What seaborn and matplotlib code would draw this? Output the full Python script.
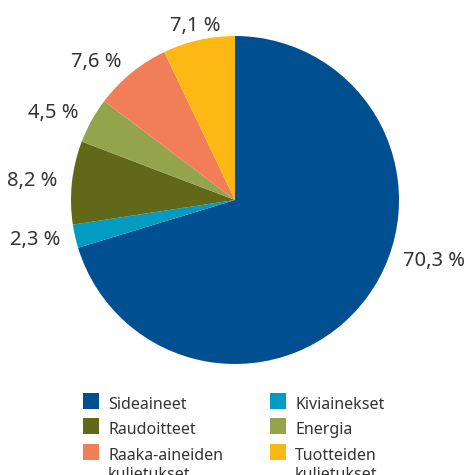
import numpy as np
import matplotlib
matplotlib.use("Agg")
import matplotlib.pyplot as plt
from matplotlib.patches import Rectangle
import seaborn as sns

categories = ["Sideaineet", "Kiviainekset", "Raudoitteet", "Energia",
              "Raaka-aineiden\nkuljetukset", "Tuotteiden\nkuljetukset"]
values = [70.3, 2.3, 8.2, 4.5, 7.6, 7.1]
colors = ["#004f91", "#029bc1", "#616818", "#94a44c", "#f27e57", "#fdb813"]
pct_labels = [f"{v:.1f} %".replace(".", ",") for v in values]

sns.set_theme(style="white")
plt.rcParams["font.family"] = ["Noto Sans", "DejaVu Sans"]
TXT = "#333333"

W, H = 465, 475
fig = plt.figure(figsize=(W / 100, H / 100), dpi=100)

cx, cy, R = 235, 200, 164
ax = fig.add_axes([(cx - R) / W, 1 - (cy + R) / H, 2 * R / W, 2 * R / H])
wedges, texts = ax.pie(values, colors=colors, startangle=90, counterclock=False,
                       labels=pct_labels, labeldistance=1.09,
                       wedgeprops=dict(linewidth=0),
                       textprops=dict(fontsize=14.5, color=TXT))
ax.set_xlim(-1, 1)
ax.set_ylim(-1, 1)
ax.set_aspect("equal")

# label tweaks (layout only)
big = int(np.argmax(values))
ang = np.deg2rad(-20)
texts[big].set_position((1.09 * np.cos(ang), 1.09 * np.sin(ang)))
for t in texts:
    x, y = t.get_position()
    if abs(x) < 0.3:
        t.set_ha("center")

# manual legend, row-major, two columns
col_x = [83, 270]
row_top = [393, 418, 444]
sq = 16
line_h = 19
for i, (lab, c) in enumerate(zip(categories, colors)):
    r, k = divmod(i, 2)
    x0, y0 = col_x[k], row_top[r]
    fig.patches.append(Rectangle((x0 / W, 1 - (y0 + sq) / H), sq / W, sq / H,
                                 transform=fig.transFigure, facecolor=c,
                                 edgecolor="none"))
    for j, line in enumerate(lab.split("\n")):
        fig.text((x0 + 25) / W, 1 - (y0 + sq + j * line_h) / H, line,
                 ha="left", va="baseline", fontsize=11.5, color=TXT)

fig.savefig("out.png", dpi=100, facecolor="white")
